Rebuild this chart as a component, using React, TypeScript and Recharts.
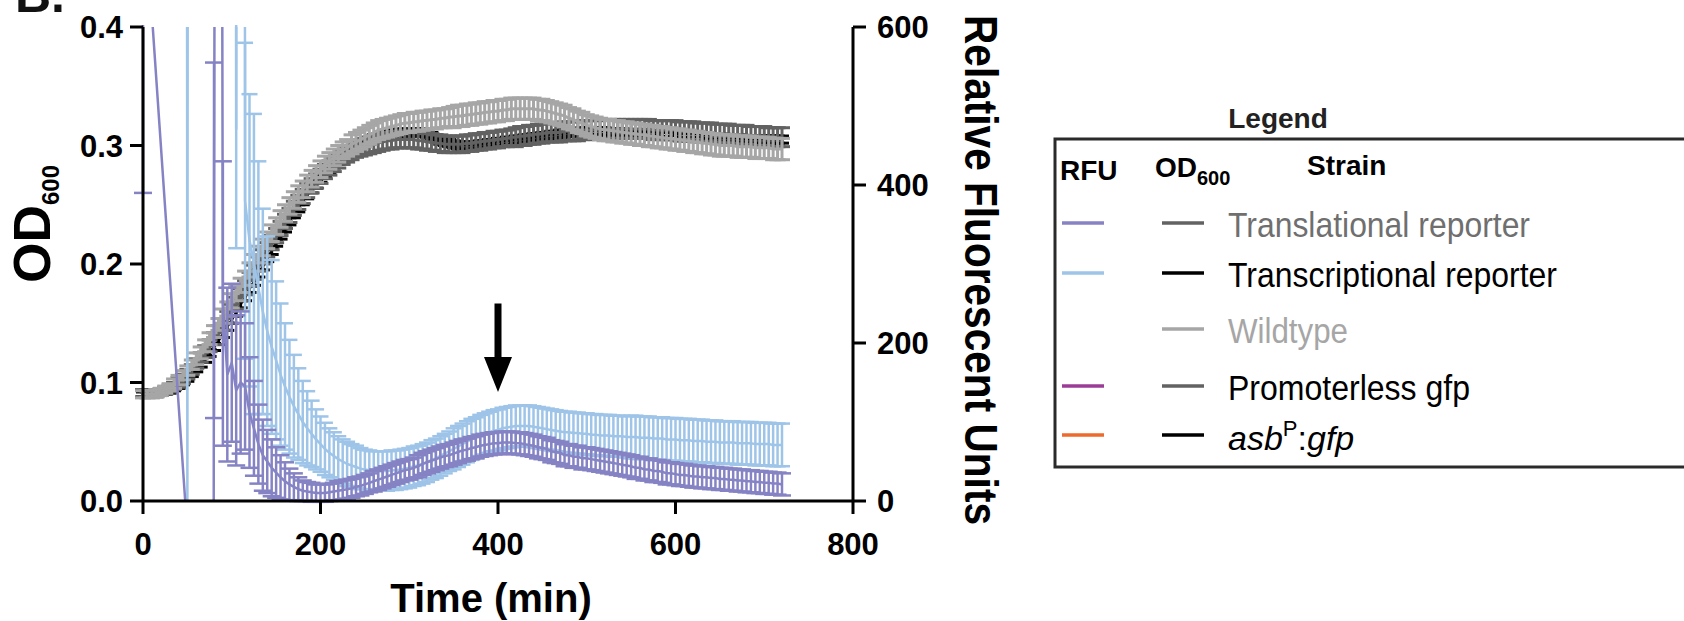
import React from "react";
import { ComposedChart, ErrorBar, Line, ReferenceLine, XAxis, YAxis } from "recharts";

const FONT = '"Liberation Sans", Arial, Helvetica, sans-serif';

// sampling every 5 min
const timeMin = [
  0, 5, 10, 15, 20, 25, 30, 35, 40, 45,
  50, 55, 60, 65, 70, 75, 80, 85, 90, 95,
  100, 105, 110, 115, 120, 125, 130, 135, 140, 145,
  150, 155, 160, 165, 170, 175, 180, 185, 190, 195,
  200, 205, 210, 215, 220, 225, 230, 235, 240, 245,
  250, 255, 260, 265, 270, 275, 280, 285, 290, 295,
  300, 305, 310, 315, 320, 325, 330, 335, 340, 345,
  350, 355, 360, 365, 370, 375, 380, 385, 390, 395,
  400, 405, 410, 415, 420, 425, 430, 435, 440, 445,
  450, 455, 460, 465, 470, 475, 480, 485, 490, 495,
  500, 505, 510, 515, 520, 525, 530, 535, 540, 545,
  550, 555, 560, 565, 570, 575, 580, 585, 590, 595,
  600, 605, 610, 615, 620, 625, 630, 635, 640, 645,
  650, 655, 660, 665, 670, 675, 680, 685, 690, 695,
  700, 705, 710, 715, 720,
];

// OD600 (left axis)
const odWildtype = [
  0.090, 0.090, 0.090, 0.091, 0.092, 0.094, 0.096, 0.099, 0.102, 0.106,
  0.110, 0.115, 0.120, 0.125, 0.131, 0.137, 0.143, 0.149, 0.156, 0.162,
  0.169, 0.175, 0.182, 0.188, 0.195, 0.201, 0.208, 0.214, 0.220, 0.226,
  0.232, 0.238, 0.243, 0.249, 0.254, 0.259, 0.263, 0.268, 0.272, 0.276,
  0.280, 0.284, 0.287, 0.290, 0.293, 0.296, 0.298, 0.301, 0.303, 0.305,
  0.307, 0.309, 0.311, 0.313, 0.314, 0.315, 0.316, 0.317, 0.318, 0.319,
  0.319, 0.320, 0.320, 0.321, 0.321, 0.322, 0.322, 0.323, 0.323, 0.324,
  0.324, 0.325, 0.325, 0.326, 0.326, 0.327, 0.327, 0.328, 0.328, 0.329,
  0.329, 0.330, 0.330, 0.331, 0.331, 0.331, 0.331, 0.331, 0.331, 0.330,
  0.330, 0.329, 0.328, 0.327, 0.326, 0.325, 0.323, 0.322, 0.320, 0.319,
  0.317, 0.316, 0.315, 0.314, 0.313, 0.313, 0.312, 0.312, 0.311, 0.311,
  0.310, 0.310, 0.309, 0.309, 0.308, 0.308, 0.307, 0.307, 0.306, 0.306,
  0.305, 0.305, 0.304, 0.304, 0.303, 0.303, 0.302, 0.302, 0.301, 0.301,
  0.300, 0.300, 0.300, 0.300, 0.299, 0.299, 0.299, 0.299, 0.298, 0.298,
  0.298, 0.298, 0.297, 0.297, 0.297,
];
const odWildtypeErr = [
  0.003, 0.003, 0.003, 0.003, 0.003, 0.003, 0.003, 0.004, 0.004, 0.004,
  0.004, 0.004, 0.005, 0.005, 0.005, 0.005, 0.005, 0.005, 0.006, 0.006,
  0.006, 0.006, 0.006, 0.006, 0.006, 0.007, 0.007, 0.007, 0.007, 0.007,
  0.007, 0.007, 0.007, 0.007, 0.007, 0.007, 0.007, 0.007, 0.007, 0.007,
  0.007, 0.007, 0.007, 0.007, 0.007, 0.007, 0.007, 0.008, 0.008, 0.008,
  0.008, 0.008, 0.008, 0.008, 0.008, 0.008, 0.008, 0.008, 0.008, 0.008,
  0.008, 0.008, 0.008, 0.008, 0.008, 0.008, 0.008, 0.008, 0.008, 0.008,
  0.009, 0.009, 0.009, 0.009, 0.009, 0.009, 0.009, 0.009, 0.009, 0.009,
  0.009, 0.009, 0.009, 0.009, 0.009, 0.009, 0.009, 0.009, 0.009, 0.009,
  0.009, 0.009, 0.009, 0.009, 0.009, 0.009, 0.009, 0.009, 0.009, 0.009,
  0.009, 0.009, 0.009, 0.009, 0.009, 0.009, 0.009, 0.009, 0.009, 0.009,
  0.009, 0.009, 0.009, 0.009, 0.009, 0.009, 0.009, 0.009, 0.009, 0.009,
  0.009, 0.009, 0.009, 0.009, 0.009, 0.009, 0.009, 0.009, 0.009, 0.009,
  0.009, 0.009, 0.009, 0.009, 0.009, 0.009, 0.009, 0.009, 0.009, 0.009,
  0.009, 0.009, 0.009, 0.009, 0.009,
];
const odTranslational = [
  0.091, 0.091, 0.091, 0.091, 0.092, 0.093, 0.095, 0.097, 0.100, 0.103,
  0.107, 0.111, 0.116, 0.121, 0.126, 0.131, 0.137, 0.143, 0.149, 0.155,
  0.161, 0.167, 0.174, 0.180, 0.187, 0.193, 0.200, 0.206, 0.212, 0.218,
  0.224, 0.230, 0.236, 0.241, 0.247, 0.252, 0.257, 0.262, 0.266, 0.270,
  0.274, 0.278, 0.281, 0.284, 0.287, 0.290, 0.292, 0.294, 0.296, 0.298,
  0.299, 0.300, 0.301, 0.302, 0.303, 0.304, 0.304, 0.305, 0.305, 0.305,
  0.305, 0.305, 0.304, 0.304, 0.303, 0.303, 0.302, 0.302, 0.301, 0.301,
  0.301, 0.301, 0.301, 0.302, 0.302, 0.303, 0.303, 0.304, 0.304, 0.305,
  0.305, 0.306, 0.306, 0.307, 0.307, 0.308, 0.308, 0.309, 0.309, 0.310,
  0.310, 0.311, 0.311, 0.311, 0.311, 0.312, 0.312, 0.312, 0.312, 0.313,
  0.313, 0.313, 0.313, 0.313, 0.314, 0.314, 0.314, 0.314, 0.314, 0.314,
  0.314, 0.314, 0.314, 0.314, 0.314, 0.313, 0.313, 0.313, 0.313, 0.313,
  0.313, 0.312, 0.312, 0.312, 0.312, 0.311, 0.311, 0.311, 0.311, 0.310,
  0.310, 0.310, 0.310, 0.309, 0.309, 0.309, 0.309, 0.308, 0.308, 0.308,
  0.308, 0.307, 0.307, 0.307, 0.307,
];
const odTranslationalErr = [
  0.003, 0.003, 0.003, 0.003, 0.003, 0.003, 0.003, 0.003, 0.004, 0.004,
  0.004, 0.004, 0.004, 0.004, 0.005, 0.005, 0.005, 0.005, 0.005, 0.005,
  0.005, 0.005, 0.005, 0.006, 0.006, 0.006, 0.006, 0.006, 0.006, 0.006,
  0.006, 0.006, 0.006, 0.006, 0.006, 0.006, 0.006, 0.006, 0.006, 0.006,
  0.006, 0.006, 0.006, 0.006, 0.006, 0.006, 0.006, 0.006, 0.006, 0.007,
  0.007, 0.007, 0.007, 0.007, 0.007, 0.007, 0.007, 0.007, 0.007, 0.007,
  0.007, 0.007, 0.007, 0.007, 0.007, 0.007, 0.007, 0.007, 0.007, 0.007,
  0.007, 0.007, 0.007, 0.007, 0.007, 0.007, 0.007, 0.007, 0.007, 0.007,
  0.007, 0.007, 0.007, 0.007, 0.008, 0.008, 0.008, 0.008, 0.008, 0.008,
  0.008, 0.008, 0.008, 0.008, 0.008, 0.008, 0.008, 0.008, 0.008, 0.008,
  0.008, 0.008, 0.008, 0.008, 0.008, 0.008, 0.008, 0.008, 0.008, 0.008,
  0.008, 0.008, 0.008, 0.008, 0.008, 0.008, 0.008, 0.008, 0.008, 0.008,
  0.008, 0.008, 0.008, 0.008, 0.008, 0.008, 0.008, 0.008, 0.008, 0.008,
  0.008, 0.008, 0.008, 0.008, 0.008, 0.008, 0.008, 0.008, 0.008, 0.008,
  0.008, 0.008, 0.008, 0.008, 0.008,
];
const odTranscriptional = [
  0.090, 0.090, 0.090, 0.090, 0.091, 0.092, 0.093, 0.095, 0.097, 0.100,
  0.103, 0.107, 0.111, 0.115, 0.120, 0.125, 0.130, 0.135, 0.141, 0.147,
  0.153, 0.159, 0.166, 0.172, 0.179, 0.185, 0.192, 0.198, 0.205, 0.211,
  0.218, 0.224, 0.230, 0.236, 0.242, 0.247, 0.253, 0.258, 0.263, 0.267,
  0.272, 0.276, 0.280, 0.284, 0.287, 0.290, 0.293, 0.296, 0.298, 0.300,
  0.302, 0.304, 0.306, 0.307, 0.308, 0.309, 0.310, 0.310, 0.311, 0.311,
  0.311, 0.311, 0.311, 0.311, 0.310, 0.308, 0.306, 0.304, 0.303, 0.302,
  0.301, 0.300, 0.300, 0.300, 0.300, 0.300, 0.301, 0.301, 0.302, 0.302,
  0.303, 0.303, 0.304, 0.304, 0.305, 0.305, 0.306, 0.306, 0.307, 0.307,
  0.308, 0.308, 0.309, 0.309, 0.310, 0.310, 0.311, 0.311, 0.311, 0.312,
  0.312, 0.312, 0.312, 0.312, 0.312, 0.311, 0.311, 0.311, 0.311, 0.310,
  0.310, 0.310, 0.310, 0.309, 0.309, 0.309, 0.309, 0.308, 0.308, 0.308,
  0.308, 0.307, 0.307, 0.307, 0.307, 0.307, 0.307, 0.306, 0.306, 0.306,
  0.306, 0.306, 0.306, 0.306, 0.306, 0.305, 0.305, 0.305, 0.305, 0.305,
  0.305, 0.305, 0.305, 0.305, 0.305,
];
const odTranscriptionalErr = [
  0.002, 0.002, 0.002, 0.002, 0.002, 0.002, 0.002, 0.002, 0.002, 0.002,
  0.002, 0.002, 0.002, 0.002, 0.003, 0.003, 0.003, 0.003, 0.003, 0.003,
  0.003, 0.003, 0.003, 0.003, 0.003, 0.003, 0.003, 0.003, 0.003, 0.003,
  0.003, 0.003, 0.003, 0.003, 0.003, 0.003, 0.003, 0.003, 0.003, 0.003,
  0.003, 0.003, 0.003, 0.003, 0.003, 0.003, 0.003, 0.003, 0.003, 0.003,
  0.003, 0.003, 0.003, 0.003, 0.003, 0.003, 0.003, 0.003, 0.003, 0.003,
  0.003, 0.003, 0.003, 0.003, 0.003, 0.003, 0.003, 0.003, 0.003, 0.003,
  0.003, 0.003, 0.003, 0.003, 0.003, 0.003, 0.003, 0.003, 0.003, 0.003,
  0.003, 0.003, 0.003, 0.003, 0.003, 0.003, 0.003, 0.003, 0.003, 0.003,
  0.003, 0.003, 0.003, 0.003, 0.003, 0.003, 0.003, 0.003, 0.003, 0.003,
  0.003, 0.003, 0.003, 0.003, 0.003, 0.003, 0.003, 0.003, 0.003, 0.003,
  0.003, 0.003, 0.003, 0.003, 0.003, 0.003, 0.003, 0.003, 0.003, 0.003,
  0.003, 0.003, 0.003, 0.003, 0.003, 0.003, 0.003, 0.003, 0.003, 0.003,
  0.003, 0.003, 0.003, 0.003, 0.003, 0.003, 0.003, 0.003, 0.003, 0.003,
  0.003, 0.003, 0.003, 0.003, 0.003,
];

// RFU (right axis); values outside 0-600 run off the plot as in the original
const rfuTranslational = [
  780, null, null, null, null, null, null, null, null, null,
  -40, -5000, -5000, -5000, -5000, -5000, 330, 3000, 250, 160,
  175, 140, 150, 145, 112, 92, 72, 58, 50, 42,
  36, 30, 25, 21, 18, 15, 13, 12, 11, 10,
  10, 10, 11, 12, 13, 14, 15, 16, 18, 19,
  21, 23, 25, 27, 29, 31, 33, 35, 37, 39,
  40, 42, 44, 47, 49, 51, 53, 55, 57, 58,
  60, 62, 64, 65, 67, 68, 70, 71, 72, 73,
  73, 74, 74, 74, 73, 73, 72, 71, 70, 68,
  67, 66, 63, 62, 61, 58, 58, 56, 56, 54,
  54, 53, 52, 51, 50, 49, 48, 47, 46, 45,
  44, 42, 42, 40, 40, 38, 38, 37, 35, 35,
  34, 33, 33, 32, 31, 31, 30, 30, 29, 29,
  28, 28, 27, 27, 26, 26, 25, 25, 24, 24,
  23, 23, 22, 22, 21,
];
const rfuTranslationalErr = [
  390, null, null, null, null, null, null, null, null, null,
  null, null, null, null, null, null, 225, null, 180, 110,
  100, 95, 90, 80, 70, 60, 50, 45, 40, 36,
  32, 28, 24, 20, 17, 15, 13, 12, 12, 11,
  11, 11, 11, 11, 12, 12, 12, 12, 12, 12,
  12, 12, 13, 13, 13, 13, 13, 13, 13, 13,
  13, 13, 14, 14, 14, 14, 14, 14, 14, 14,
  14, 14, 14, 14, 14, 14, 14, 14, 14, 14,
  14, 14, 14, 14, 14, 14, 14, 14, 14, 14,
  14, 14, 14, 14, 14, 14, 14, 14, 14, 14,
  14, 14, 14, 14, 14, 14, 14, 14, 14, 14,
  14, 14, 14, 14, 14, 14, 14, 14, 14, 14,
  14, 14, 14, 14, 14, 14, 14, 14, 14, 14,
  14, 14, 14, 14, 14, 14, 14, 14, 14, 14,
  14, 14, 14, 14, 14,
];
const rfuTranscriptional = [
  null, null, null, null, null, null, null, null, null, 9000,
  -10, 9000, 9000, 9000, 9000, 9000, 9000, 9000, 9000, 9000,
  9000, 470, 9000, 380, 330, 300, 270, 240, 215, 195,
  178, 160, 145, 132, 120, 110, 100, 92, 85, 78,
  72, 66, 61, 57, 53, 50, 47, 45, 43, 41,
  40, 39, 38, 38, 38, 38, 39, 39, 40, 41,
  42, 44, 45, 47, 49, 52, 54, 57, 60, 63,
  66, 69, 72, 75, 78, 80, 83, 85, 87, 89,
  90, 92, 93, 94, 95, 95, 95, 95, 94, 93,
  92, 91, 90, 89, 88, 87, 87, 86, 86, 85,
  85, 84, 84, 83, 83, 83, 82, 82, 82, 81,
  81, 81, 80, 80, 80, 79, 79, 79, 78, 78,
  78, 77, 77, 77, 76, 76, 76, 75, 75, 75,
  74, 74, 74, 74, 73, 73, 73, 73, 72, 72,
  72, 72, 71, 71, 71,
];
const rfuTranscriptionalErr = [
  null, null, null, null, null, null, null, null, null, null,
  null, null, null, null, null, null, null, null, null, null,
  null, 150, null, 200, 185, 190, 160, 130, 120, 110,
  100, 90, 80, 72, 65, 58, 52, 47, 42, 38,
  35, 33, 31, 30, 29, 28, 28, 27, 27, 26,
  25, 25, 25, 25, 25, 25, 25, 25, 25, 25,
  25, 25, 25, 25, 25, 25, 25, 25, 25, 25,
  26, 26, 26, 26, 26, 26, 26, 26, 26, 26,
  26, 26, 26, 26, 26, 26, 26, 26, 26, 26,
  26, 26, 26, 26, 26, 26, 26, 26, 26, 26,
  26, 26, 26, 26, 26, 26, 26, 26, 26, 26,
  27, 27, 27, 27, 27, 27, 27, 27, 27, 27,
  27, 27, 27, 27, 27, 27, 27, 27, 27, 27,
  27, 27, 27, 27, 27, 27, 27, 27, 27, 27,
  27, 27, 27, 27, 27,
];

const timeTicks = [0, 200, 400, 600, 800];
const odTicks = [0, 0.1, 0.2, 0.3, 0.4];
const rfuTicks = [0, 200, 400, 600];

// the arrow marking 400 min
const arrowMark = { time: 400, fromRfu: 250, toRfu: 138 };

const legendRows = [
  { label: "Translational reporter", text: "#6f6f6f", rfu: "#8583c4", od: "#626262", len: 302 },
  { label: "Transcriptional reporter", text: "#000000", rfu: "#9ec4e8", od: "#000000", len: 329 },
  { label: "Wildtype", text: "#a6a6a6", rfu: null, od: "#a6a6a6", len: 120 },
  { label: "Promoterless gfp", text: "#000000", rfu: "#9b3c97", od: "#626262", len: 242 },
  { label: "asbP:gfp", text: "#000000", rfu: "#ee6a2c", od: "#000000", len: 0 },
];

const axisStyle = { stroke: "#000", strokeWidth: 3 };
const tickStyle = { fill: "#000", fontSize: 31, fontWeight: 700, fontFamily: FONT };

const ArrowShape = (props: any) => {
  const { x1, y1, y2 } = props;
  const top = Math.min(y1, y2);
  const tip = Math.max(y1, y2);
  const headLen = 35;
  const headHalf = 14;
  return (
    <g>
      <rect x={x1 - 3.5} y={top} width={7} height={tip - top - headLen + 1} fill="#000" />
      <polygon
        points={`${x1 - headHalf},${tip - headLen} ${x1 + headHalf},${tip - headLen} ${x1},${tip}`}
        fill="#000"
      />
    </g>
  );
};

const OdTitle = ({ viewBox }: any) => {
  const x = viewBox.x + 7;
  const y = viewBox.y + viewBox.height / 2 - 40;
  return (
    <text
      x={x}
      y={y}
      transform={`rotate(-90, ${x}, ${y})`}
      textAnchor="middle"
      fontFamily={FONT}
      fontWeight={700}
      fill="#000"
    >
      <tspan fontSize={52}>OD</tspan>
      <tspan fontSize={24} dy={9}>600</tspan>
    </text>
  );
};

const RfuTitle = ({ viewBox }: any) => {
  const x = viewBox.x + 112;
  const y = viewBox.y + viewBox.height / 2 + 6;
  return (
    <text
      x={x}
      y={y}
      transform={`rotate(90, ${x}, ${y})`}
      textAnchor="middle"
      fontFamily={FONT}
      fontWeight={700}
      fontSize={46}
      textLength={510}
      lengthAdjust="spacingAndGlyphs"
      fill="#000"
    >
      Relative Fluorescent Units
    </text>
  );
};

const TimeTitle = ({ viewBox }: any) => (
  <text
    x={viewBox.x + viewBox.width / 2 - 7}
    y={viewBox.y + 111}
    textAnchor="middle"
    fontFamily={FONT}
    fontWeight={700}
    fontSize={40}
    fill="#000"
  >
    Time (min)
  </text>
);

export default function App() {
  const data = timeMin.map((t, i) => ({
    time: t,
    odWildtype: odWildtype[i],
    odWildtypeErr: odWildtypeErr[i],
    odTranslational: odTranslational[i],
    odTranslationalErr: odTranslationalErr[i],
    odTranscriptional: odTranscriptional[i],
    odTranscriptionalErr: odTranscriptionalErr[i],
    rfuTranslational: rfuTranslational[i],
    rfuTranslationalErr: rfuTranslationalErr[i],
    rfuTranscriptional: rfuTranscriptional[i],
    rfuTranscriptionalErr: rfuTranscriptionalErr[i],
  }));

  const rowY = [223, 273, 329, 386, 435];

  return (
    <div
      style={{
        position: "absolute",
        left: 0,
        top: 0,
        width: 1684,
        height: 621,
        background: "#fff",
        fontFamily: FONT,
        overflow: "hidden",
      }}
    >
      <ComposedChart
        width={1684}
        height={621}
        data={data}
        margin={{ top: 27, right: 711, bottom: 60, left: 43 }}
      >
        <XAxis
          dataKey="time"
          type="number"
          domain={[0, 800]}
          ticks={timeTicks}
          interval={0}
          height={60}
          tickSize={13}
          tickMargin={19}
          axisLine={axisStyle}
          tickLine={axisStyle}
          tick={tickStyle}
          label={{ content: TimeTitle }}
        />
        <YAxis
          yAxisId="od"
          orientation="left"
          width={100}
          domain={[0, 0.4]}
          allowDataOverflow
          ticks={odTicks}
          interval={0}
          tickFormatter={(v: number) => v.toFixed(1)}
          tickSize={13}
          tickMargin={7}
          axisLine={axisStyle}
          tickLine={axisStyle}
          tick={tickStyle}
          label={{ content: OdTitle }}
        />
        <YAxis
          yAxisId="rfu"
          orientation="right"
          width={120}
          domain={[0, 600]}
          allowDataOverflow
          ticks={rfuTicks}
          interval={0}
          tickSize={13}
          tickMargin={11}
          axisLine={axisStyle}
          tickLine={axisStyle}
          tick={tickStyle}
          label={{ content: RfuTitle }}
        />

        <Line yAxisId="od" dataKey="odTranscriptional" stroke="#000" strokeWidth={2.5} dot={false} isAnimationActive={false}>
          <ErrorBar dataKey="odTranscriptionalErr" direction="y" width={7} stroke="#000" strokeWidth={3} isAnimationActive={false} />
        </Line>
        <Line yAxisId="od" dataKey="odTranslational" stroke="#626262" strokeWidth={3} dot={false} isAnimationActive={false}>
          <ErrorBar dataKey="odTranslationalErr" direction="y" width={8} stroke="#626262" strokeWidth={3} isAnimationActive={false} />
        </Line>
        <Line yAxisId="od" dataKey="odWildtype" stroke="#a6a6a6" strokeWidth={3} dot={false} isAnimationActive={false}>
          <ErrorBar dataKey="odWildtypeErr" direction="y" width={8} stroke="#a6a6a6" strokeWidth={3} isAnimationActive={false} />
        </Line>

        <Line yAxisId="rfu" dataKey="rfuTranscriptional" stroke="#9ec4e8" strokeWidth={2.5} dot={false} isAnimationActive={false}>
          <ErrorBar dataKey="rfuTranscriptionalErr" direction="y" width={8} stroke="#9ec4e8" strokeWidth={2.5} isAnimationActive={false} />
        </Line>
        <Line
          yAxisId="rfu"
          dataKey="rfuTranslational"
          stroke="#8583c4"
          strokeWidth={2.5}
          dot={false}
          connectNulls
          isAnimationActive={false}
        >
          <ErrorBar dataKey="rfuTranslationalErr" direction="y" width={9} stroke="#8583c4" strokeWidth={2.5} isAnimationActive={false} />
        </Line>

        <ReferenceLine
          yAxisId="rfu"
          segment={[
            { x: arrowMark.time, y: arrowMark.fromRfu },
            { x: arrowMark.time, y: arrowMark.toRfu },
          ]}
          shape={ArrowShape}
          ifOverflow="visible"
        />
      </ComposedChart>

      <svg
        width={1684}
        height={621}
        style={{ position: "absolute", left: 0, top: 0, pointerEvents: "none" }}
        fontFamily={FONT}
      >
        {/* error bars that run past the top of the plot are cut there, as in the original */}
        <rect x={136} y={0} width={715} height={25} fill="#fff" />

        <text x={15} y={12} fontSize={50} fontWeight={700} fill="#111">
          B.
        </text>

        <text x={1278} y={128} textAnchor="middle" fontSize={28} fontWeight={700} fill="#222">
          Legend
        </text>
        <rect x={1055} y={139} width={700} height={328} fill="none" stroke="#2a2a2a" strokeWidth={3} />
        <text x={1060} y={180} fontSize={28} fontWeight={700} fill="#000">
          RFU
        </text>
        <text x={1155} y={177} fontSize={28} fontWeight={700} fill="#000">
          OD<tspan fontSize={20} dy={8}>600</tspan>
        </text>
        <text x={1307} y={175} fontSize={28} fontWeight={700} fill="#000">
          Strain
        </text>

        {legendRows.map((row, i) => (
          <g key={row.label}>
            {row.rfu && (
              <line x1={1062} x2={1104} y1={rowY[i]} y2={rowY[i]} stroke={row.rfu} strokeWidth={3.5} />
            )}
            <line x1={1162} x2={1204} y1={rowY[i]} y2={rowY[i]} stroke={row.od} strokeWidth={3.5} />
            {row.label === "asbP:gfp" ? (
              <text x={1228} y={rowY[i] + 15} fontSize={34} fill={row.text}>
                <tspan fontStyle="italic">asb</tspan>
                <tspan fontSize={22} dy={-14}>P</tspan>
                <tspan dy={14}>:</tspan>
                <tspan fontStyle="italic">gfp</tspan>
              </text>
            ) : (
              <text
                x={1228}
                y={rowY[i] + 14}
                fontSize={35}
                textLength={row.len}
                lengthAdjust="spacingAndGlyphs"
                fill={row.text}
              >
                {row.label}
              </text>
            )}
          </g>
        ))}
      </svg>
    </div>
  );
}
